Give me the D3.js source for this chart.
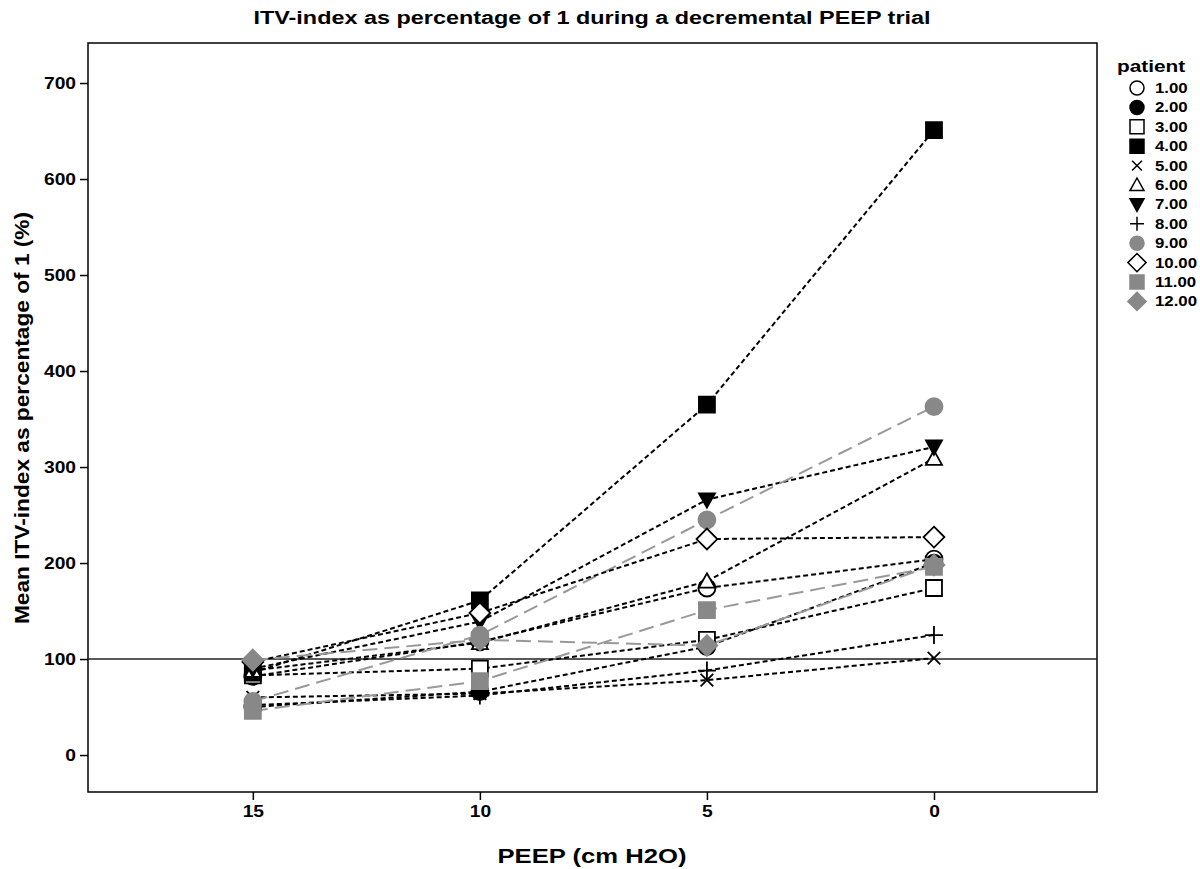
<!DOCTYPE html>
<html><head><meta charset="utf-8">
<script src="https://cdn.jsdelivr.net/npm/d3@7"></script>
<style>body{margin:0;background:#fff}svg{display:block}text{font-family:"Liberation Sans",Arial,sans-serif;font-weight:bold;fill:#000}</style>
</head><body>
<svg id="c" width="1200" height="869"></svg>
<script>
const peep = [15, 10, 5, 0];
const patientLabels = ["1.00","2.00","3.00","4.00","5.00","6.00","7.00","8.00","9.00","10.00","11.00","12.00"];
const p1  = [82, 118, 174, 204];
const p2  = [50, 66, 113, 200];
const p3  = [83, 90, 120, 174];
const p4  = [86, 161, 365, 651];
const p5  = [60, 64, 78, 101];
const p6  = [88, 117, 181, 309];
const p7  = [90, 139, 266, 321];
const p8  = [52, 62, 88, 125];
const p9  = [56, 125, 245, 363];
const p10 = [97, 148, 225, 227];
const p11 = [46, 77, 151, 196];
const p12 = [99, 120, 114, 198];
const series = [p1,p2,p3,p4,p5,p6,p7,p8,p9,p10,p11,p12];
const yTicks = [0,100,200,300,400,500,600,700];
const xTicks = [15,10,5,0];
const refValue = 100;

const shapes = ["circle","circle","square","square","x","triUp","triDown","plus","circle","diamond","square","diamond"];
const fills  = ["#fff","#000","#fff","#000","none","#fff","#000","none","#888","#fff","#888","#888"];
const strokes= ["#000","#000","#000","#000","#000","#000","#000","#000","#888","#000","#888","#888"];
const lineGray = [false,false,false,false,false,false,false,false,true,false,true,true];

const svg = d3.select("#c");
const L=88, R=1097, T=43, B=792;
const x = d3.scaleLinear().domain([18.63,-3.59]).range([L,R]);
const y = d3.scaleLinear().domain([-38.5,741.7]).range([B,T]);

function stretch(sel, f){
  sel.each(function(){
    const w = this.getComputedTextLength();
    d3.select(this).attr("textLength", w*f).attr("lengthAdjust","spacingAndGlyphs");
  });
}

function shapePath(s, r){
  switch(s){
    case "circle": return `M${-r},0A${r},${r} 0 1,0 ${r},0A${r},${r} 0 1,0 ${-r},0Z`;
    case "square": return `M${-r},${-r}H${r}V${r}H${-r}Z`;
    case "triUp": return `M0,${-r}L${r},${r*0.8}L${-r},${r*0.8}Z`;
    case "triDown": return `M0,${r}L${r},${-r*0.8}L${-r},${-r*0.8}Z`;
    case "diamond": return `M0,${-r*1.3}L${r*1.3},0L0,${r*1.3}L${-r*1.3},0Z`;
    case "plus": return `M${-r},0H${r}M0,${-r}V${r}`;
    case "x": return `M${-r*0.7},${-r*0.7}L${r*0.7},${r*0.7}M${-r*0.7},${r*0.7}L${r*0.7},${-r*0.7}`;
  }
}

// frame
svg.append("rect").attr("x",L).attr("y",T).attr("width",R-L).attr("height",B-T)
  .attr("fill","none").attr("stroke","#000").attr("stroke-width",1.5);

// axes
const yAxis = d3.axisLeft(y).tickValues(yTicks).tickSize(8).tickPadding(4);
const gy = svg.append("g").attr("transform",`translate(${L},0)`).call(yAxis);
const xAxis = d3.axisBottom(x).tickValues(xTicks).tickSize(8).tickPadding(6);
const gx = svg.append("g").attr("transform",`translate(0,${B})`).call(xAxis);
[gy,gx].forEach(g=>{
  g.attr("font-family",null).attr("font-size",null);
  g.select(".domain").remove();
  g.selectAll(".tick line").attr("stroke","#000").attr("stroke-width",1.5);
  g.selectAll(".tick text").style("font-size","16px").style("fill","#000");
  stretch(g.selectAll(".tick text"), 1.2);
});

// reference line
svg.append("line").attr("x1",L).attr("x2",R).attr("y1",y(refValue)).attr("y2",y(refValue))
  .attr("stroke","#222").attr("stroke-width",1.5);

// lines
const line = d3.line().x((d,i)=>x(peep[i])).y(d=>y(d));
series.forEach((s,k)=>{
  svg.append("path").attr("d",line(s)).attr("fill","none")
    .attr("stroke", lineGray[k] ? "#999" : "#000")
    .attr("stroke-width", 2)
    .attr("stroke-dasharray", lineGray[k] ? "15,7" : "5,3");
});

// markers
series.forEach((s,k)=>{
  s.forEach((v,i)=>{
    const open = shapes[k]==="plus"||shapes[k]==="x";
    const r = shapes[k]==="circle" ? 8.5 : (open ? 9 : 8);
    svg.append("path").attr("d",shapePath(shapes[k], r))
      .attr("transform",`translate(${x(peep[i])},${y(v)})`)
      .attr("fill",fills[k]).attr("stroke",strokes[k]).attr("stroke-width",1.8);
  });
});

// title & axis labels
const title = svg.append("text").attr("x",592).attr("y",24).attr("text-anchor","middle").style("font-size","18px")
  .text("ITV-index as percentage of 1 during a decremental PEEP trial");
stretch(title, 1.3);
const xl = svg.append("text").attr("x",592).attr("y",863).attr("text-anchor","middle").style("font-size","21px")
  .text("PEEP (cm H2O)");
stretch(xl, 1.22);
const yl = svg.append("text").attr("transform","translate(29,418) rotate(-90)").attr("text-anchor","middle").style("font-size","21px")
  .text("Mean ITV-index as percentage of 1 (%)");
stretch(yl, 1.08);

// legend
const lg = svg.append("g");
const lt = lg.append("text").attr("x",1117).attr("y",72).style("font-size","16px").text("patient");
stretch(lt, 1.3);
patientLabels.forEach((lab,k)=>{
  const cy = 88 + k*19.4;
  lg.append("path").attr("d",shapePath(shapes[k], 7))
    .attr("transform",`translate(1137,${cy})`)
    .attr("fill",fills[k]).attr("stroke",strokes[k]).attr("stroke-width",1.5);
  const t = lg.append("text").attr("x",1155).attr("y",cy+5).style("font-size","14px").text(lab);
  stretch(t, 1.2);
});
</script>
</body></html>
